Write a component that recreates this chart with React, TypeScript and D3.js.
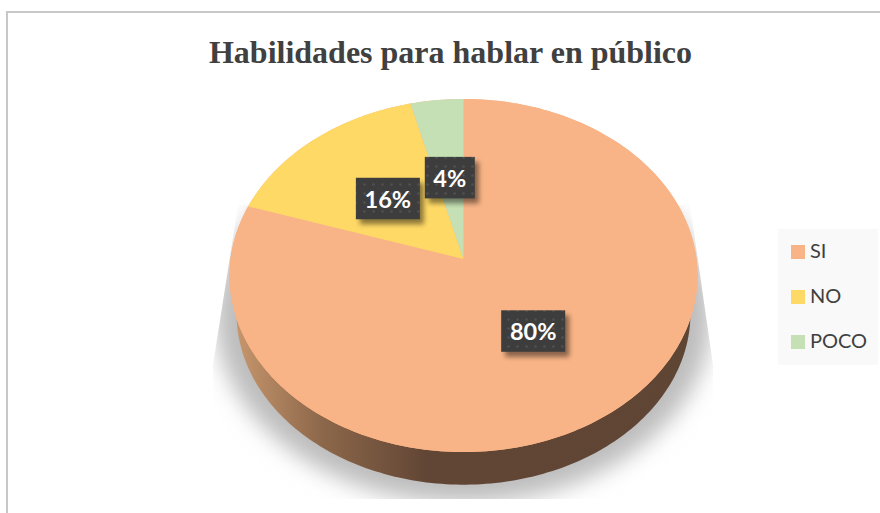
import React from 'react';
import * as d3 from 'd3';

const categories = ['SI', 'NO', 'POCO'];
const shares = [80, 16, 4];
const sliceColors = ['#f8b486', '#ffd966', '#c5e0b4'];
const chartTitle = 'Habilidades para hablar en público';

const width = 880;
const height = 513;

// the pie is a tilted disc, so the apex sits above the middle of the outline
const apex = { x: 463.5, y: 259 };
const radiusX = 233;
const radiusY = 175;
const tilt = 0.0935;

function project(angle: number, r = 1, dy = 0): [number, number] {
  const u = Math.sin(angle) * r;
  const v = Math.cos(angle) * r;
  const w = 1 + tilt * v;
  return [apex.x + (radiusX * u) / w, apex.y - (radiusY * v) / w + dy];
}

function arcPoints(a0: number, a1: number, r = 1, dy = 0) {
  const n = Math.max(2, Math.ceil(Math.abs(a1 - a0) / 0.02));
  return d3.range(n + 1).map(i => project(a0 + ((a1 - a0) * i) / n, r, dy));
}

const line = d3.line();
const pie = d3.pie<number>().sort(null)(shares);
const fullTurn = Math.PI * 2;

export default function App() {
  const outline = line(arcPoints(0, fullTurn))! + 'Z';
  // underside of the disc, a bit narrower than the top face
  const underside = line(arcPoints(0, fullTurn, 0.97, 39))! + 'Z';
  const shadowOutline = line(arcPoints(0, fullTurn, 1.06, 38))! + 'Z';

  return (
    <svg
      width={width}
      height={height}
      viewBox={`0 0 ${width} ${height}`}
      style={{ position: 'absolute', left: 0, top: 0, background: '#fff' }}
    >
      <defs>
        <filter id="shadowBlur" x="-20%" y="-20%" width="140%" height="140%">
          <feGaussianBlur stdDeviation="11" />
        </filter>
        <filter id="boxShadow" x="-30%" y="-30%" width="170%" height="170%">
          <feGaussianBlur stdDeviation="2.5" />
        </filter>
        <clipPath id="shadowClip">
          <polygon points="238,205 213,365 213,499 713,499 713,365 690,205" />
        </clipPath>
        <linearGradient id="wallFill" gradientUnits="userSpaceOnUse" x1={229} x2={697} y1={0} y2={0}>
          <stop offset="0" stopColor="#cb9a70" />
          <stop offset="0.2" stopColor="#8c674a" />
          <stop offset="0.42" stopColor="#624635" />
          <stop offset="1" stopColor="#5f4534" />
        </linearGradient>
        <pattern id="dots" width={9} height={9} patternUnits="userSpaceOnUse">
          <rect width={9} height={9} fill="#3d3d3d" />
          <circle cx={4.5} cy={4.5} r={1.3} fill="#505050" />
        </pattern>
      </defs>

      <rect x={7} y={12} width={width} height={height} fill="#fff" stroke="#c8c8c8" strokeWidth={2} />

      <text
        x={450.5}
        y={63}
        textAnchor="middle"
        fontFamily="'Liberation Serif', serif"
        fontWeight="bold"
        fontSize={32}
        fill="#404040"
      >
        {chartTitle}
      </text>

      <g clipPath="url(#shadowClip)">
        <path d={shadowOutline} fill="#bdbdbd" filter="url(#shadowBlur)" />
      </g>

      <path d={underside} fill="url(#wallFill)" />
      <path d={outline} fill={sliceColors[0]} />

      {pie.map((d, i) => (
        <path
          key={categories[i]}
          d={line([[apex.x, apex.y], ...arcPoints(d.startAngle, d.endAngle)])! + 'Z'}
          fill={sliceColors[i]}
        />
      ))}

      {pie.map((d, i) => {
        const [cx, cy] = project((d.startAngle + d.endAngle) / 2, 0.49);
        const w = shares[i] < 10 ? 50 : 64;
        const h = 41.5;
        return (
          <g key={categories[i]}>
            <rect x={cx - w / 2 + 4} y={cy - h / 2 + 5} width={w} height={h} fill="#000" opacity={0.45} filter="url(#boxShadow)" />
            <rect x={cx - w / 2} y={cy - h / 2} width={w} height={h} fill="url(#dots)" />
            <text
              x={cx}
              y={cy + 9}
              textAnchor="middle"
              fontFamily="Lato, sans-serif"
              fontWeight="bold"
              fontSize={23.5}
              fill="#fff"
            >
              {shares[i]}%
            </text>
          </g>
        );
      })}

      <rect x={778} y={229} width={100} height={136} fill="#f9f9f9" />
      {categories.map((name, i) => (
        <g key={name} transform={`translate(791,${252 + i * 45})`}>
          <rect x={0} y={-7} width={14} height={14} fill={sliceColors[i]} />
          <text x={19} y={6} fontFamily="Lato, sans-serif" fontSize={20} fill="#404040">
            {name}
          </text>
        </g>
      ))}
    </svg>
  );
}
